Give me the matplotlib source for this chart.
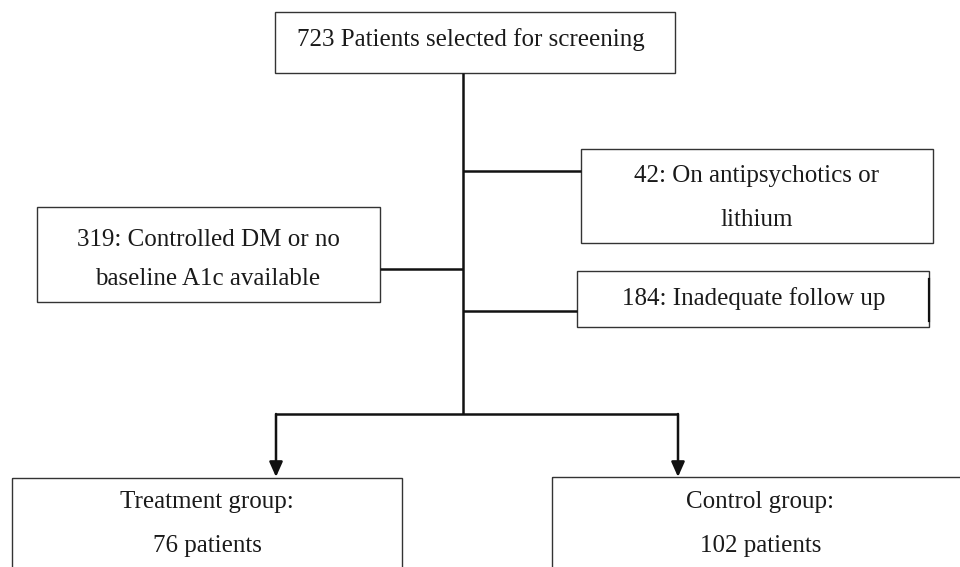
import matplotlib.pyplot as plt
from matplotlib.patches import Rectangle, FancyArrowPatch

# box texts (one entry per line)
top_lines = ["723 Patients selected for screening"]
excl_left_lines = ["319: Controlled DM or no", "baseline A1c available"]
excl_right1_lines = ["42: On antipsychotics or", "lithium"]
excl_right2_lines = ["184: Inadequate follow up"]
treat_lines = ["Treatment group:", "76 patients"]
control_lines = ["Control group:", "102 patients"]

plt.rcParams['font.family'] = ['Liberation Serif', 'DejaVu Serif']

fig = plt.figure(figsize=(9.6, 5.67), dpi=100)
ax = fig.add_axes([0, 0, 1, 1])
ax.set_xlim(0, 960)
ax.set_ylim(567, 0)
ax.axis('off')

box_kw = dict(fill=False, edgecolor='#333333', linewidth=1.0)
line_kw = dict(color='#111111', linewidth=1.8, solid_capstyle='butt')
fs = 18


def box(x0, y0, x1, y1, lines, ys, xs, size=fs):
    ax.add_patch(Rectangle((x0, y0), x1 - x0, y1 - y0, **box_kw))
    for t, x, y in zip(lines, xs, ys):
        ax.text(x, y, t, ha='center', va='baseline', fontsize=size, color='#1a1a1a')


box(275, 12, 675, 73, top_lines, [46], [471])
box(581, 149, 933, 243, excl_right1_lines, [182, 226], [757, 757])
box(577, 271, 929, 327, excl_right2_lines, [305], [754])
ax.plot([929, 929], [279, 321], color='#111111', linewidth=1.6)
box(37, 207, 380, 302, excl_left_lines, [246, 285], [208, 208])
box(12, 478, 402, 600, treat_lines, [508, 552], [207, 207])
box(552, 477, 1000, 600, control_lines, [508, 552], [760, 761])

# connectors
ax.plot([463, 463], [73, 414], **line_kw)
ax.plot([463, 581], [171, 171], **line_kw)
ax.plot([380, 463], [269, 269], **line_kw)
ax.plot([463, 577], [311, 311], **line_kw)
ax.plot([276, 678], [414, 414], **line_kw)
for x in [276, 678]:
    ax.add_patch(FancyArrowPatch((x, 414), (x, 477), arrowstyle='-|>,head_length=9,head_width=4',
                                 mutation_scale=1, color='#111111', linewidth=1.8,
                                 shrinkA=0, shrinkB=0))

fig.savefig('out.png', dpi=100)
